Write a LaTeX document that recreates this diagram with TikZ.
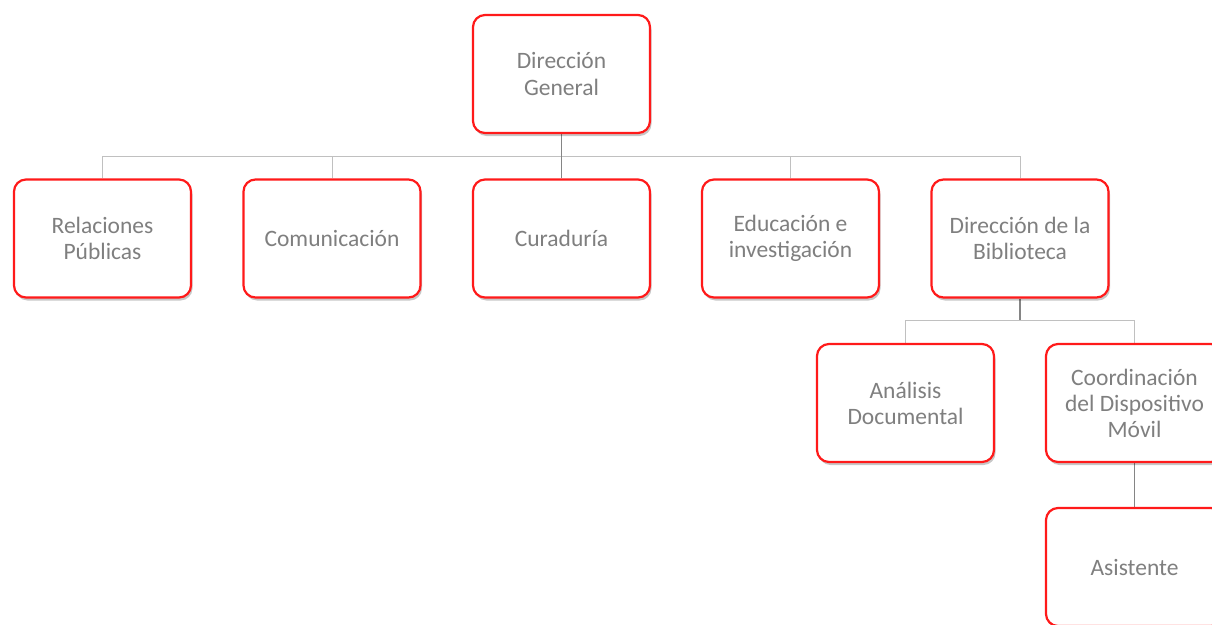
\documentclass[tikz,border=0pt]{standalone}
\usepackage{fontspec}
\setmainfont{Carlito}
\usetikzlibrary{shadows}
\pgfdeclarelayer{background}
\pgfsetlayers{background,main}
\definecolor{boxred}{HTML}{FF1A1A}
\definecolor{txtgray}{HTML}{7F7F7F}
\definecolor{busgray}{HTML}{C0C0C0}
\definecolor{stemgray}{HTML}{858585}
\tikzset{
  unit/.style={draw=boxred, line width=2.2pt, fill=white, rounded corners=12pt,
    minimum width=177pt, minimum height=118pt, align=center, text=txtgray,
    font=\fontsize{23.5}{26}\selectfont,
    drop shadow={shadow xshift=1.5pt, shadow yshift=-3pt, opacity=0.22, fill=black}},
  bus/.style={draw=busgray, line width=1pt},
  stem/.style={draw=stemgray, line width=1.6pt},
}
\begin{document}
\begin{tikzpicture}[x=1pt,y=-1pt]
\clip (0,0) rectangle (1212,624);
\node[unit] (dg) at (561.5,74) {Dirección\\General};
\node[unit] (rp) at (102.5,238.5) {Relaciones\\Públicas};
\node[unit] (com) at (332,238.5) {Comunicación};
\node[unit] (cur) at (561.5,238.5) {Curaduría};
\node[unit] (edu) at (790.5,238.5) {Educación e\\investigación};
\node[unit] (bib) at (1020,238.5) {Dirección de la\\Biblioteca};
\node[unit] (ana) at (905.5,403) {Análisis\\Documental};
\node[unit] (coo) at (1134.5,403) {Coordinación\\del Dispositivo\\Móvil};
\node[unit] (asi) at (1134.5,567) {Asistente};
\coordinate (b1) at (0,156);
\coordinate (b2) at (0,320);
\begin{pgfonlayer}{background}
\draw[bus] (rp.north) -- (rp.north |- b1) -- (bib.north |- b1) -- (bib.north);
\draw[bus] (com.north) -- (com.north |- b1);
\draw[bus] (edu.north) -- (edu.north |- b1);
\draw[stem] (dg.south) -- (cur.north);
\draw[bus] (ana.north) -- (ana.north |- b2) -- (coo.north |- b2) -- (coo.north);
\draw[stem] (bib.south) -- (bib.south |- b2);
\draw[stem] (coo.south) -- (asi.north);
\end{pgfonlayer}
\end{tikzpicture}
\end{document}
